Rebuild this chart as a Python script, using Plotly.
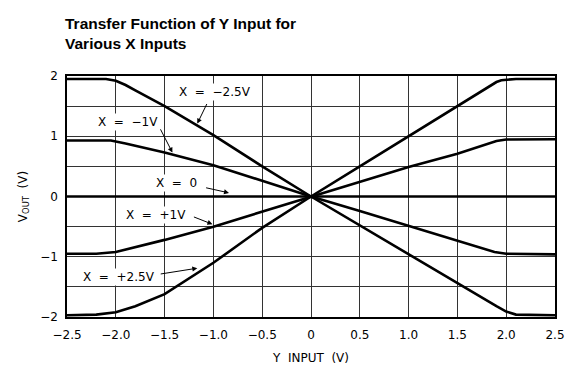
import plotly.graph_objects as go

# Y input (V) and output voltage (V) for each X input
y_in_xm25 = [-2.5, -2.1, -2.0, -1.9, -1.8, -1.5, -1.0, -0.5, 0.0, 0.5, 1.0, 1.5, 1.9, 2.0, 2.1, 2.5]
v_out_xm25 = [1.95, 1.95, 1.92, 1.85, 1.76, 1.50, 1.02, 0.50, 0.0, -0.48, -0.96, -1.45, -1.82, -1.91, -1.96, -1.97]

y_in_xm1 = [-2.5, -2.05, -1.9, -1.5, -1.0, -0.5, 0.0, 0.5, 1.0, 1.5, 1.88, 2.0, 2.5]
v_out_xm1 = [0.93, 0.93, 0.88, 0.73, 0.52, 0.26, 0.0, -0.24, -0.49, -0.73, -0.92, -0.95, -0.96]

y_in_x0 = [-2.5, 0.0, 2.5]
v_out_x0 = [0.0, 0.0, 0.0]

y_in_xp1 = [-2.5, -2.2, -2.0, -1.5, -1.0, -0.5, 0.0, 0.5, 1.0, 1.5, 1.9, 2.0, 2.5]
v_out_xp1 = [-0.95, -0.95, -0.92, -0.72, -0.50, -0.25, 0.0, 0.24, 0.49, 0.71, 0.92, 0.945, 0.95]

y_in_xp25 = [-2.5, -2.2, -2.0, -1.8, -1.5, -1.0, -0.5, 0.0, 0.5, 1.0, 1.5, 1.9, 1.95, 2.1, 2.5]
v_out_xp25 = [-1.97, -1.96, -1.92, -1.82, -1.62, -1.10, -0.52, 0.0, 0.50, 1.00, 1.50, 1.90, 1.93, 1.95, 1.95]

x_ticks = [-2.5, -2.0, -1.5, -1.0, -0.5, 0, 0.5, 1.0, 1.5, 2.0, 2.5]
x_labels = ["\u22122.5", "\u22122.0", "\u22121.5", "\u22121.0", "\u22120.5", "0",
            "0.5", "1.0", "1.5", "2.0", "2.5"]
y_ticks = [-2, -1.5, -1, -0.5, 0, 0.5, 1, 1.5, 2]
y_labels = ["\u22122", "", "\u22121", "", "0", "", "1", "", "2"]

curves = [
    (y_in_xm25, v_out_xm25),
    (y_in_xm1, v_out_xm1),
    (y_in_x0, v_out_x0),
    (y_in_xp1, v_out_xp1),
    (y_in_xp25, v_out_xp25),
]

fig = go.Figure()
for xs, ys in curves:
    fig.add_trace(go.Scatter(x=xs, y=ys, mode="lines",
                             line=dict(color="black", width=2.6),
                             hoverinfo="skip"))

sp = "\u00a0"
# label text, label position, arrow tail, arrow head
labels = [
    (f"X {sp}={sp} \u22122.5V", (-0.98, 1.74), (-1.06, 1.56), (-1.165, 1.21)),
    (f"X {sp}={sp} \u22121V", (-1.88, 1.23), (-1.55, 1.14), (-1.42, 0.73)),
    (f"X {sp}={sp} 0", (-1.38, 0.23), (-1.09, 0.15), (-0.84, 0.06)),
    (f"X {sp}={sp} +1V", (-1.585, -0.30), (-1.215, -0.33), (-1.01, -0.46)),
    (f"X {sp}={sp} +2.5V", (-1.965, -1.33), (-1.555, -1.29), (-1.165, -1.19)),
]
for text, (tx, ty), (ax, ay), (hx, hy) in labels:
    fig.add_annotation(x=tx, y=ty, text=text, showarrow=False,
                       bgcolor="white", borderpad=1,
                       font=dict(family="DejaVu Sans", size=12, color="black"))
    fig.add_annotation(x=hx, y=hy, ax=ax, ay=ay, axref="x", ayref="y",
                       text="", showarrow=True, arrowhead=2, arrowsize=1,
                       arrowwidth=1, arrowcolor="black")

# title as a left-aligned two-line annotation above the plot
fig.add_annotation(xref="paper", yref="paper", x=-0.008, y=1.26,
                   xanchor="left", yanchor="top", align="left", showarrow=False,
                   text="<b>Transfer Function of Y Input for<br>Various X Inputs</b>",
                   font=dict(family="Liberation Sans Narrow, Arial Narrow, Liberation Sans",
                             size=15.5, color="black"))

axis_common = dict(
    showgrid=True, gridcolor="#333", gridwidth=1,
    showline=True, linecolor="black", linewidth=1.5, mirror=True,
    zeroline=False, ticks="", automargin=False,
    tickfont=dict(family="DejaVu Sans", size=12, color="black"),
)

fig.update_xaxes(range=[-2.5, 2.5], tickvals=x_ticks, ticktext=x_labels,
                 ticklabelstandoff=6,
                 title=dict(text=f"Y{sp} INPUT{sp} (V)", standoff=12,
                            font=dict(family="DejaVu Sans", size=12, color="black")),
                 **axis_common)
fig.update_yaxes(range=[-2, 2], tickvals=y_ticks, ticktext=y_labels,
                 ticklabelstandoff=5,
                 title=dict(text=f"V<sub>OUT</sub>{sp} (V)", standoff=10,
                            font=dict(family="DejaVu Sans", size=12, color="black")),
                 **axis_common)

fig.update_layout(
    width=578, height=370,
    showlegend=False,
    plot_bgcolor="white", paper_bgcolor="white",
    margin=dict(l=67, r=23, t=76, b=53),
)

# drop the browser's default body margin so the 578x370 figure fills the window
fig.write_html("out.html", config={"displayModeBar": False},
               post_script="document.body.style.margin='0';document.body.style.overflow='hidden';")
